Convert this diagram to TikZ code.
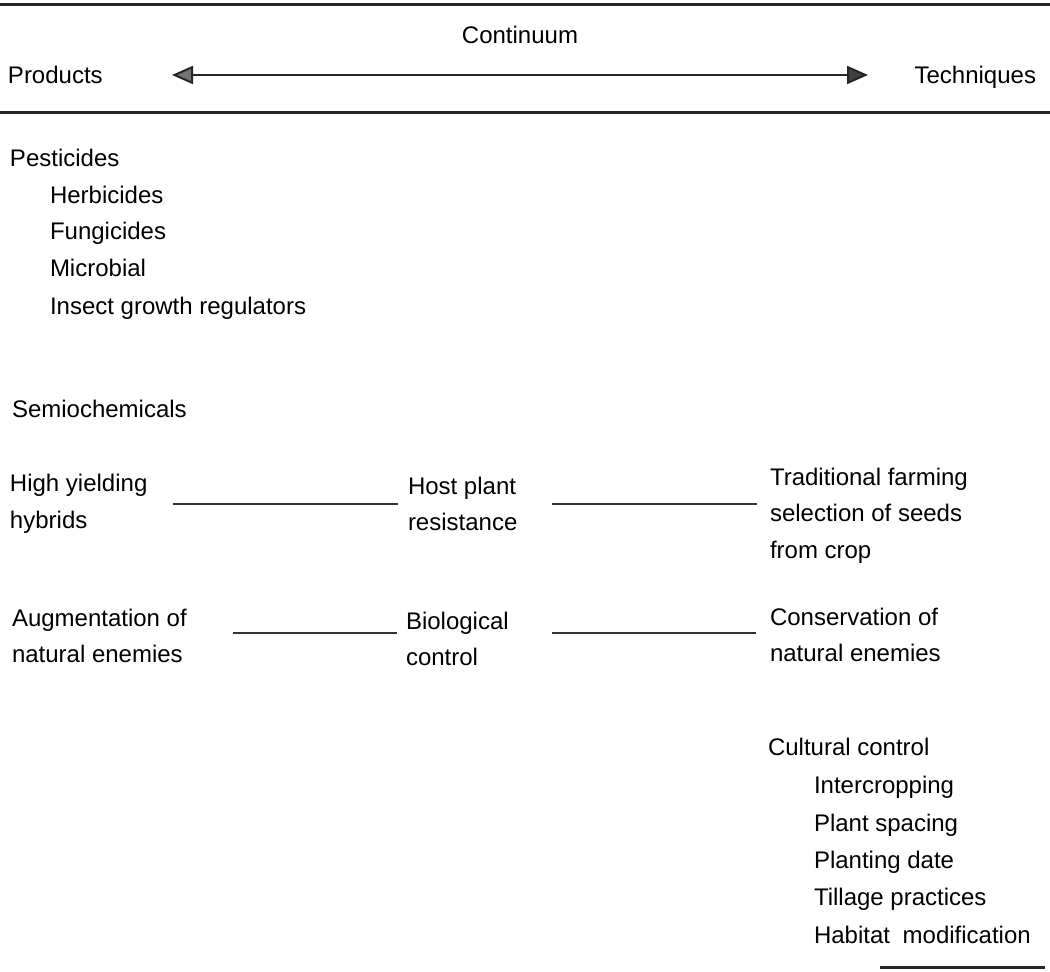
\documentclass[tikz,border=0pt]{standalone}
\usepackage{fontspec}
\setmainfont{Liberation Sans}
\usetikzlibrary{arrows.meta}
\begin{document}
\begin{tikzpicture}[x=0.5pt,y=-0.5pt,
  lbl/.style={anchor=base west,inner sep=0pt,outer sep=0pt,font=\fontsize{12}{14}\selectfont},
  rule/.style={line width=1.5pt,draw=black!85},
  link/.style={line width=0.9pt,draw=black!80},
  tip/.style={line width=1pt,draw=black!85,{Triangle[length=10.5pt,width=9pt,fill=black!55]}-{Triangle[length=10.5pt,width=9pt,fill=black!75]}}]
\useasboundingbox (0,0) rectangle (1050,972);
\fill[white] (0,0) rectangle (1050,972);
% rules
\coordinate (r1a) at (0,5); \coordinate (r1b) at (1050,5);
\coordinate (r2a) at (0,113); \coordinate (r2b) at (1050,113);
\coordinate (r3a) at (880,967); \coordinate (r3b) at (1045,967);
\draw[rule] (r1a) -- (r1b);
\draw[rule] (r2a) -- (r2b);
\draw[rule] (r3a) -- (r3b);
% header
\node[lbl,anchor=base] (cont) at (520,44) {Continuum};
\node[lbl] (prod) at (8,84) {Products};
\node[lbl,anchor=base east] (tech) at (1036,84) {Techniques};
\coordinate (al) at (172,75); \coordinate (ar) at (868,75);
\draw[tip] (al) -- (ar);
% left list
\node[lbl] (pest) at (10,167) {Pesticides};
\node[lbl] (herb) at (50,204) {Herbicides};
\node[lbl] (fung) at (50,240) {Fungicides};
\node[lbl] (micr) at (50,277) {Microbial};
\node[lbl] (igr) at (50,315) {Insect growth regulators};
\node[lbl] (semi) at (12,418) {Semiochemicals};
% row 1
\node[lbl] (hy1) at (10,492) {High yielding};
\node[lbl] (hy2) at (10,529) {hybrids};
\node[lbl] (hp1) at (408,495) {Host plant};
\node[lbl] (hp2) at (408,531) {resistance};
\node[lbl] (tf1) at (770,486) {Traditional farming};
\node[lbl] (tf2) at (770,522) {selection of seeds};
\node[lbl] (tf3) at (770,559) {from crop};
\coordinate (l1a) at (173,504); \coordinate (l1b) at (398,504);
\coordinate (l1c) at (552,504); \coordinate (l1d) at (757,504);
\draw[link] (l1a) -- (l1b);
\draw[link] (l1c) -- (l1d);
% row 2
\node[lbl] (au1) at (12,627) {Augmentation of};
\node[lbl] (au2) at (12,663) {natural enemies};
\node[lbl] (bc1) at (406,630) {Biological};
\node[lbl] (bc2) at (406,666) {control};
\node[lbl] (cn1) at (770,626) {Conservation of};
\node[lbl] (cn2) at (770,662) {natural enemies};
\coordinate (l2a) at (233,633); \coordinate (l2b) at (397,633);
\coordinate (l2c) at (552,633); \coordinate (l2d) at (756,633);
\draw[link] (l2a) -- (l2b);
\draw[link] (l2c) -- (l2d);
% cultural control
\node[lbl] (cc) at (768,755) {Cultural control};
\node[lbl] (ic) at (814,793) {Intercropping};
\node[lbl] (ps) at (814,831) {Plant spacing};
\node[lbl] (pd) at (814,868) {Planting date};
\node[lbl] (tp) at (814,905) {Tillage practices};
\node[lbl] (hm) at (814,943) {Habitat\hspace{0.25em} modification};
\end{tikzpicture}
\end{document}
